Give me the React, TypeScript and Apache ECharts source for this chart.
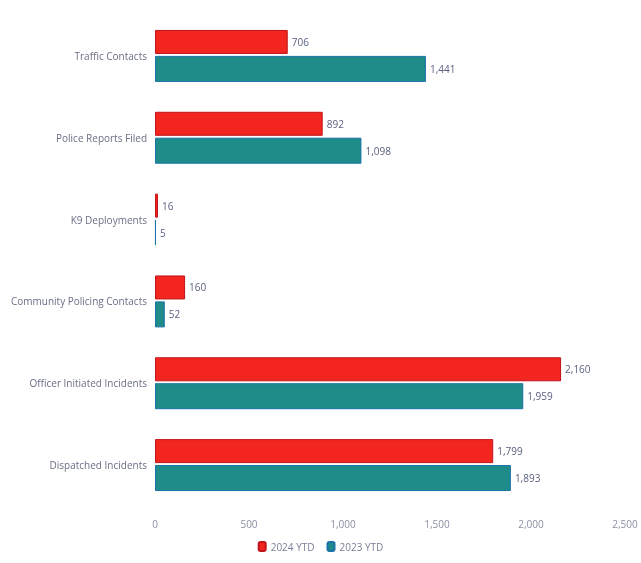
import React, { useEffect, useRef } from "react";
import * as echarts from "echarts";

const categories = [
  "Traffic Contacts",
  "Police Reports Filed",
  "K9 Deployments",
  "Community Policing Contacts",
  "Officer Initiated Incidents",
  "Dispatched Incidents",
];
const ytd2024 = [706, 892, 16, 160, 2160, 1799];
const ytd2023 = [1441, 1098, 5, 52, 1959, 1893];
const seriesNames = ["2024 YTD", "2023 YTD"];

export default function App() {
  const ref = useRef<HTMLDivElement>(null);
  useEffect(() => {
    const chart = echarts.init(ref.current!, null, { renderer: "svg" });
    const fmt = (v: number) => v.toLocaleString("en-US");
    chart.setOption({
      animation: false,
      textStyle: { fontFamily: "Open Sans" },
      grid: { left: 155, right: 16, top: 15, bottom: 57 },
      legend: {
        bottom: 6,
        left: "center",
        itemWidth: 7,
        itemHeight: 9,
        itemGap: 12,
        textStyle: { color: "#7a7f95", fontSize: 10 },
        data: seriesNames,
      },
      xAxis: {
        type: "value",
        min: 0,
        max: 2500,
        interval: 500,
        axisLine: { show: false },
        axisTick: { show: false },
        splitLine: { show: false },
        axisLabel: { color: "#8a8fa3", fontSize: 10, margin: 13, formatter: (v: number) => fmt(v) },
      },
      yAxis: {
        type: "category",
        data: categories,
        inverse: true,
        axisLine: { show: false },
        axisTick: { show: false },
        axisLabel: { color: "#6a6f85", fontSize: 10, margin: 8 },
      },
      series: [
        {
          name: seriesNames[0],
          type: "bar",
          data: ytd2024,
          barWidth: 24,
          barGap: "8%",
          itemStyle: { color: "#f2261f", borderColor: "#c0141a", borderWidth: 1 },
          label: { show: true, position: "right", color: "#5a6080", fontSize: 10, distance: 4, formatter: (p: any) => fmt(p.value) },
        },
        {
          name: seriesNames[1],
          type: "bar",
          data: ytd2023,
          barWidth: 26,
          itemStyle: { color: "#1f8c8a", borderColor: "#1a72a8", borderWidth: 1 },
          label: { show: true, position: "right", color: "#5a6080", fontSize: 10, distance: 4, formatter: (p: any) => fmt(p.value) },
        },
      ],
    });
    return () => chart.dispose();
  }, []);
  return <div ref={ref} style={{ position: "fixed", left: 0, top: 0, width: 641, height: 563 }} />;
}
